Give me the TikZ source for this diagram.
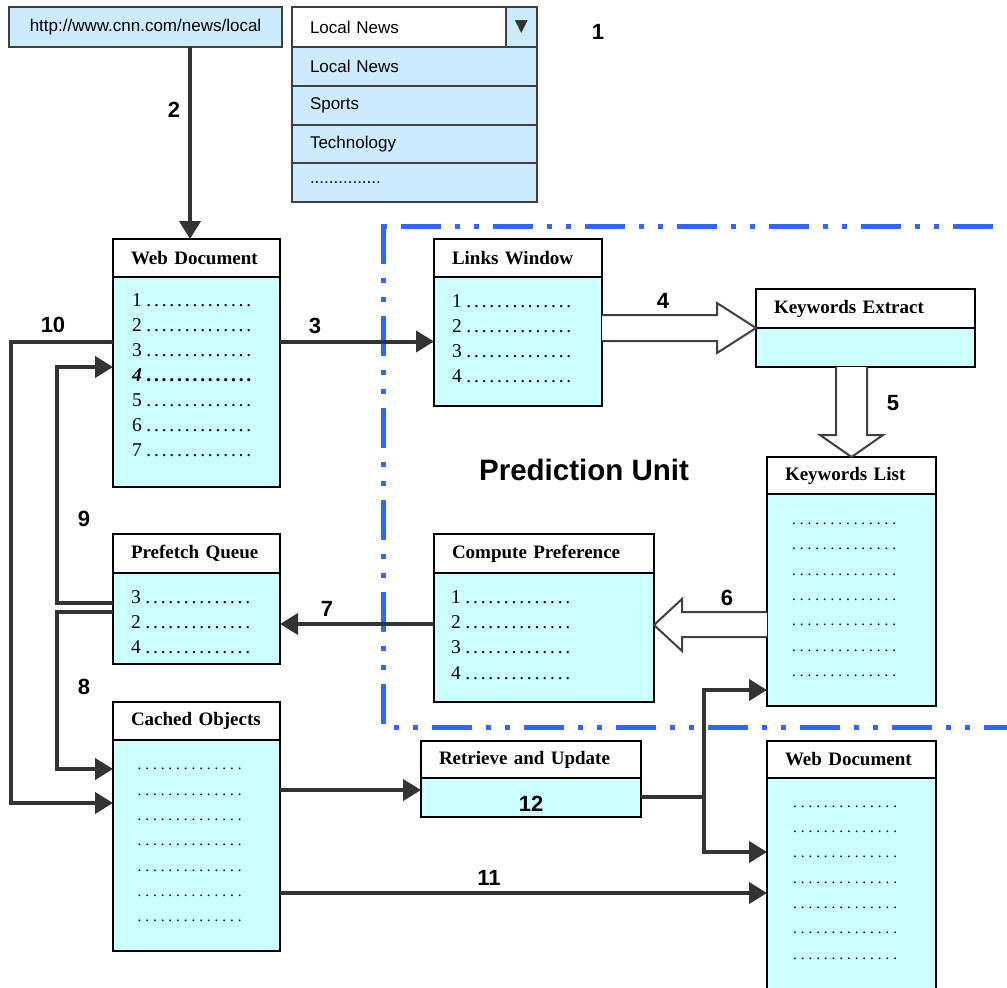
\documentclass[tikz,border=0pt]{standalone}
\usepackage{fontspec}
\setmainfont{Liberation Serif}
\setsansfont{Liberation Sans}
\newfontfamily\symfont{DejaVu Sans}
\usetikzlibrary{arrows.meta}
\definecolor{cellcyan}{RGB}{204,255,255}
\definecolor{uiblue}{RGB}{204,235,255}
\definecolor{predblue}{RGB}{51,102,255}
\definecolor{flowgray}{RGB}{51,51,51}
\definecolor{uiedge}{RGB}{64,64,64}

% a row of spaced dots, as in the list boxes
\newcommand{\dotrun}{\hbox to 108pt{\leaders\hbox to 7.7pt{\hss.\hss}\hfill}}
\newcommand{\menudots}{...............}

\begin{document}
\begin{tikzpicture}[x=1pt, y=-1pt,
  headbox/.style={draw, fill=white, line width=2pt, outer sep=0pt, anchor=north west,
    inner xsep=18pt, inner ysep=0pt, text width=#1, align=left,
    font=\fontsize{19}{22}\selectfont\bfseries},
  bodybox/.style={draw, fill=cellcyan, line width=2pt, outer sep=0pt, anchor=north west,
    minimum width=#1, inner sep=0pt},
  item/.style={anchor=west, inner sep=0pt, font=\fontsize{19.5}{22}\selectfont},
  dotitem/.style={anchor=west, inner sep=0pt, font=\fontsize{15}{18}\selectfont},
  uibox/.style={draw=uiedge, fill=uiblue, line width=2pt, outer sep=0pt, anchor=north west,
    inner sep=0pt, font=\fontsize{17}{20}\selectfont\sffamily},
  menurow/.style={uibox, inner xsep=18pt, text width=209pt, minimum height=38.75pt, align=left},
  num/.style={inner sep=0pt, font=\fontsize{22}{24}\selectfont\sffamily\bfseries},
  flow/.style={draw=flowgray, line width=4pt, -{Triangle[length=18pt, width=21pt]}},
  hollow/.style={draw=uiedge, line width=2pt, fill=white},
  predline/.style={predblue, line width=5pt,
    dash pattern=on 40pt off 14pt on 5pt off 14pt on 5pt off 14pt}]

  \useasboundingbox (0,0) rectangle (1007,988);

  % address bar and category menu
  \node[uibox, minimum width=273pt, minimum height=40pt] (url) at (9,7) {http://www.cnn.com/news/local};
  \node[menurow, fill=white, text width=178pt, minimum height=40pt] (sel) at (292,7) {Local News};
  \node[uibox, minimum width=31pt, minimum height=40pt, text=flowgray] (selbtn) at (sel.north east)
    {\symfont\fontsize{17}{17}\selectfont ▼};
  \foreach \t [count=\i] in {Local News, Sports, Technology, \menudots}
    \node[menurow] (opt\i) at (292, {47+38.75*(\i-1)}) {\t};

  % prediction unit border
  \draw[predline, dash phase=73pt] (382,226.5) -- (1012,226.5);
  \draw[predline] (383,224) -- (383,730);
  \draw[predline, dash phase=40.5pt] (380.5,727.7) -- (1012,727.7);
  \node[font=\fontsize{29.5}{32}\selectfont\sffamily\bfseries] (predlabel) at (584,470) {Prediction Unit};

  % web document
  \node[headbox=131pt, minimum height=38pt] (webT) at (113,239) {Web Document};
  \node[bodybox=167pt, minimum height=210pt] (webB) at (webT.south west) {};
  \foreach \t [count=\i] in {1,2,3,{\bfseries\itshape 4\upshape},5,6,7}
    \node[item] (webI\i) at (132, {275+25.1*\i}) {\t\hspace{3pt}\dotrun};

  % links window
  \node[headbox=132pt, minimum height=38pt] (linksT) at (434,239) {Links Window};
  \node[bodybox=168pt, minimum height=129pt] (linksB) at (linksT.south west) {};
  \foreach \i in {1,...,4}
    \node[item] (linksI\i) at (452, {276+25*\i}) {\i\hspace{3pt}\dotrun};

  % keywords extract
  \node[headbox=183pt, minimum height=39pt] (keyT) at (756,289) {Keywords Extract};
  \node[bodybox=219pt, minimum height=39pt] (keyB) at (keyT.south west) {};

  % keywords list
  \node[headbox=133pt, minimum height=37pt] (klT) at (767,457) {Keywords List};
  \node[bodybox=169pt, minimum height=212pt] (klB) at (klT.south west) {};
  \foreach \i in {1,...,7}
    \node[dotitem] (klI\i) at (790, {498.7+25.3*\i}) {\dotrun};

  % compute preference
  \node[headbox=184pt, minimum height=39pt] (cpT) at (434,534) {Compute Preference};
  \node[bodybox=220pt, minimum height=129pt] (cpB) at (cpT.south west) {};
  \foreach \i in {1,...,4}
    \node[item] (cpI\i) at (451, {572+25.2*\i}) {\i\hspace{3pt}\dotrun};

  % prefetch queue
  \node[headbox=131pt, minimum height=39pt] (pqT) at (113,534) {Prefetch Queue};
  \node[bodybox=167pt, minimum height=91pt] (pqB) at (pqT.south west) {};
  \foreach \t [count=\i] in {3,2,4}
    \node[item] (pqI\i) at (131, {572+25*\i}) {\t\hspace{3pt}\dotrun};

  % cached objects
  \node[headbox=131pt, minimum height=38pt] (coT) at (113,702) {Cached Objects};
  \node[bodybox=167pt, minimum height=211pt] (coB) at (coT.south west) {};
  \foreach \i in {1,...,7}
    \node[dotitem] (coI\i) at (135.5, {744+25.3*\i}) {\dotrun};

  % retrieve and update
  \node[headbox=184pt, minimum height=37pt] (ruT) at (421,741) {Retrieve and Update};
  \node[bodybox=220pt, minimum height=39pt, num, text height=27pt] (ruB) at (ruT.south west) {12};

  % second web document
  \node[headbox=133pt, minimum height=37pt] (wdT) at (767,741) {Web Document};
  \node[bodybox=169pt, minimum height=220pt] (wdB) at (wdT.south west) {};
  \foreach \i in {1,...,7}
    \node[dotitem] (wdI\i) at (791, {781.4+25.3*\i}) {\dotrun};

  % block arrows inside the prediction unit
  \draw[hollow] (linksB.east |- 0,315) -- (717,315) -- (717,303) -- (keyT.south west)
    -- (717,353) -- (717,341) -- (linksB.east |- 0,341);
  \draw[hollow] (836,0 |- keyB.south) -- (836,435) -- (820,435) -- (klT.north)
    -- (883,435) -- (867,435) -- (867,0 |- keyB.south);
  \draw[hollow] (klB.west |- 0,612) -- (682,612) -- (682,599) -- (cpB.east |- 0,625)
    -- (682,651) -- (682,637) -- (klB.west |- 0,637);

  % flow arrows
  \draw[flow] (190,0 |- url.south) -- (190,0 |- webT.north);
  \draw[flow] (webB.east |- linksB.west) -- (linksB.west);
  \draw[flow] (cpB.west |- 0,624) -- (pqB.east |- 0,624);
  \draw[flow] (pqB.west |- 0,603) -| (57,367) -- (webB.west |- 0,367);
  \draw[flow] (pqB.west |- 0,612) -| (57,769) -- (coB.west |- 0,769);
  \draw[flow] (webB.west |- linksB.west) -| (11,803) -- (coB.west |- 0,803);
  \draw[flow] (coB.east |- 0,790) -- (ruB.west |- 0,790);
  \draw[flow] (coB.east |- 0,893) -- (wdB.west |- 0,893);
  \coordinate (fork) at (704,797);
  \draw[draw=flowgray, line width=4pt] (ruB.east |- fork) -- (fork);
  \draw[flow] (fork) |- (klB.west |- 0,690);
  \draw[flow] (fork) |- (wdB.west |- 0,852);

  % step numbers
  \node[num] (n1) at (598,32) {1};
  \node[num] (n2) at (174,110) {2};
  \node[num] (n3) at (315,326) {3};
  \node[num] (n4) at (663,301) {4};
  \node[num] (n5) at (893,403) {5};
  \node[num] (n6) at (727,598) {6};
  \node[num] (n7) at (327,609) {7};
  \node[num] (n8) at (84,687) {8};
  \node[num] (n9) at (84,519) {9};
  \node[num] (n10) at (53,325) {10};
  \node[num] (n11) at (489,878) {11};
\end{tikzpicture}
\end{document}
